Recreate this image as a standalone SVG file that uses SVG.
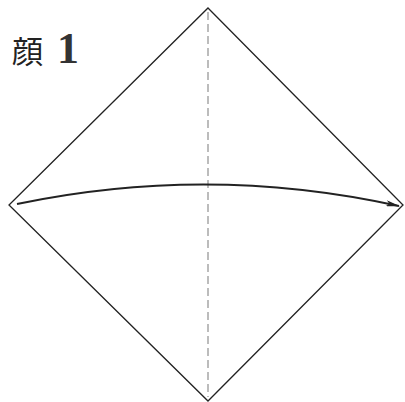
<svg xmlns="http://www.w3.org/2000/svg" width="405" height="402" viewBox="0 0 405 402">
<style>
.edge{fill:none;stroke:#222;stroke-width:1.3}
.fold{fill:none;stroke:#999;stroke-width:1.3;stroke-dasharray:8 4}
.arrow{fill:none;stroke:#222;stroke-width:2}
.title{font-family:"Noto Sans CJK JP","Noto Sans CJK SC",sans-serif;font-size:31px;fill:#222}
.num{font-family:"Liberation Serif",serif;font-size:44px;font-weight:bold;fill:#333}
</style>
<defs>
<marker id="ah" viewBox="0 0 14 6" refX="13" refY="3" markerWidth="14" markerHeight="6" markerUnits="userSpaceOnUse" orient="auto">
<path d="M0,0 L14,3 L0,6 L3,3 Z" fill="#222"/>
</marker>
</defs>
<rect width="405" height="402" fill="#fff"/>
<g id="title">
<text class="title" x="12" y="63">顔</text>
<text class="num" x="57" y="63">1</text>
</g>
<g id="square">
<path class="edge" d="M208,8 L403,205 L208,401 L9,205 Z"/>
</g>
<g id="connectors">
<line class="fold" x1="208" y1="12" x2="208" y2="397"/>
<path class="arrow" d="M17,204 Q208,164 399,206" marker-end="url(#ah)"/>
</g>
</svg>
